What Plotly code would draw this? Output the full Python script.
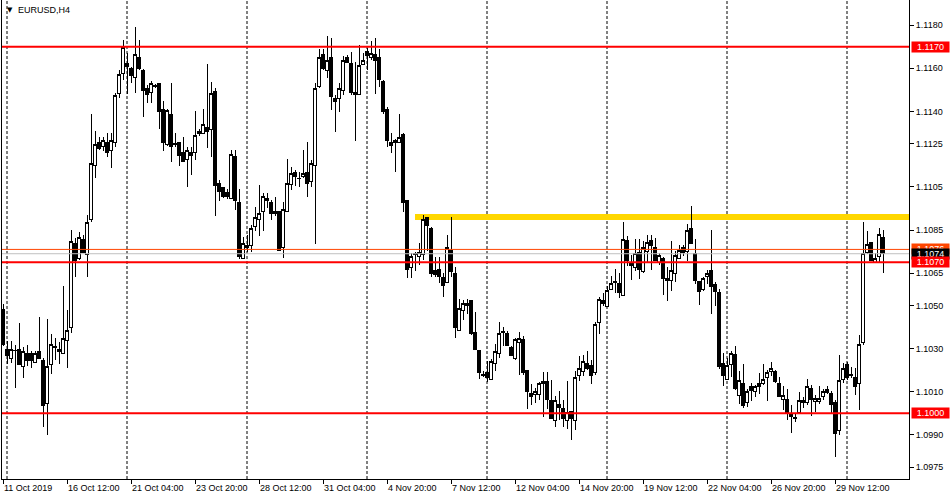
import plotly.graph_objects as go

# ---------------- data (EURUSD H4) ----------------
open_ = [
1.10482,1.10297,1.10255,1.10289,1.10297,1.10216,1.10278,1.10278,1.10236,1.10286,
1.10247,1.10046,1.10227,1.10309,1.10298,1.10278,1.10337,1.10399,1.10788,1.10719,
1.10808,1.10737,1.10899,1.11150,1.11257,1.11237,1.11257,1.11221,1.11257,1.11481,
1.11577,1.11620,1.11600,1.11558,1.11651,1.11592,1.11507,1.11489,1.11518,1.11530,
1.11410,1.11247,1.11386,1.11252,1.11257,1.11210,1.11178,1.11210,1.11210,1.11298,
1.11298,1.11326,1.11317,1.11492,1.11066,1.11046,1.11023,1.10997,1.11190,1.10978,
1.10719,1.10780,1.10777,1.10865,1.10899,1.10935,1.10997,1.10978,1.10938,1.10938,
1.10768,1.10935,1.11059,1.11117,1.11091,1.11097,1.11117,1.11074,1.11148,1.11515,
1.11662,1.11589,1.11651,1.11461,1.11461,1.11496,1.11651,1.11620,1.11479,1.11479,
1.11618,1.11680,1.11651,1.11662,1.11651,1.11541,1.11411,1.11257,1.11257,1.11257,
1.11291,1.10989,1.10677,1.10739,1.10729,1.10737,1.10909,1.10858,1.10661,1.10668,
1.10629,1.10606,1.10757,1.10649,1.10385,1.10477,1.10499,1.10522,1.10377,1.10290,
1.10181,1.10187,1.10159,1.10230,1.10279,1.10378,1.10368,1.10307,1.10256,1.10329,
1.10341,1.10198,1.10091,1.10089,1.10089,1.10148,1.10148,1.10058,1.09967,1.10040,
1.10021,1.09967,1.10009,1.09967,1.10176,1.10194,1.10230,1.10221,1.10187,1.10419,
1.10522,1.10496,1.10576,1.10610,1.10601,1.10547,1.10800,1.10697,1.10677,1.10748,
1.10658,1.10751,1.10800,1.10771,1.10700,1.10720,1.10616,1.10616,1.10650,1.10720,
1.10771,1.10751,1.10859,1.10740,1.10609,1.10576,1.10635,1.10661,1.10599,1.10558,
1.10230,1.10159,1.10228,1.10272,1.10083,1.10136,1.10048,1.10125,1.10099,1.10136,
1.10136,1.10167,1.10194,1.10194,1.10136,1.10066,1.10066,1.09998,1.09980,1.10004,
1.10048,1.10048,1.10117,1.10055,1.10055,1.10078,1.10109,1.10091,1.10048,1.09919,
1.10156,1.10228,1.10181,1.10168,1.10136,1.10329,1.10748,1.10790,1.10701,1.10728,
1.10817]

high = [
1.10507,1.10337,1.10337,1.10317,1.10420,1.10309,1.10317,1.10289,1.10288,1.10448,
1.10255,1.10437,1.10368,1.10348,1.10332,1.10590,1.10479,1.10850,1.10811,1.10841,
1.10827,1.10920,1.11388,1.11309,1.11283,1.11283,1.11298,1.11298,1.11487,1.11592,
1.11731,1.11669,1.11608,1.11793,1.11731,1.11595,1.11523,1.11541,1.11527,1.11533,
1.11450,1.11410,1.11533,1.11298,1.11260,1.11283,1.11237,1.11237,1.11403,1.11318,
1.11410,1.11620,1.11535,1.11507,1.11082,1.11051,1.11039,1.11221,1.11221,1.11040,
1.10819,1.10827,1.10873,1.10958,1.11059,1.11023,1.11020,1.10989,1.11005,1.10940,
1.10981,1.11180,1.11144,1.11128,1.11121,1.11221,1.11257,1.11175,1.11533,1.11689,
1.11689,1.11750,1.11739,1.11476,1.11530,1.11659,1.11662,1.11677,1.11631,1.11708,
1.11669,1.11693,1.11728,1.11739,1.11688,1.11546,1.11419,1.11298,1.11270,1.11386,
1.11298,1.10990,1.10745,1.10750,1.10791,1.10920,1.10912,1.10865,1.10723,1.10723,
1.10649,1.10827,1.10912,1.10680,1.10530,1.10527,1.10531,1.10527,1.10470,1.10292,
1.10194,1.10241,1.10252,1.10323,1.10422,1.10400,1.10380,1.10310,1.10349,1.10375,
1.10357,1.10202,1.10137,1.10117,1.10143,1.10190,1.10190,1.10153,1.10078,1.10102,
1.10063,1.10148,1.10012,1.10198,1.10264,1.10272,1.10290,1.10249,1.10422,1.10539,
1.10558,1.10589,1.10638,1.10669,1.10650,1.10887,1.10821,1.10736,1.10810,1.10810,
1.10799,1.10828,1.10825,1.10813,1.10743,1.10723,1.10677,1.10797,1.10751,1.10779,
1.10782,1.10878,1.10963,1.10810,1.10612,1.10632,1.10666,1.10848,1.10607,1.10578,
1.10279,1.10256,1.10287,1.10310,1.10194,1.10230,1.10114,1.10140,1.10133,1.10187,
1.10230,1.10202,1.10236,1.10202,1.10168,1.10125,1.10114,1.10040,1.09998,1.10099,
1.10074,1.10160,1.10133,1.10086,1.10125,1.10114,1.10125,1.10105,1.10060,1.10272,
1.10233,1.10236,1.10215,1.10210,1.10361,1.10887,1.10844,1.10792,1.10743,1.10859,
1.10851]

low = [
1.10312,1.10229,1.10235,1.10116,1.10224,1.10165,1.10219,1.10208,1.10234,1.10250,
1.09935,1.09899,1.10181,1.10247,1.10227,1.10273,1.10208,1.10374,1.10634,1.10711,
1.10742,1.10634,1.10886,1.11090,1.11221,1.11218,1.11187,1.11136,1.11237,1.11461,
1.11546,1.11481,1.11530,1.11487,1.11592,1.11376,1.11437,1.11437,1.11507,1.11317,
1.11218,1.11240,1.11167,1.11237,1.11148,1.11165,1.11048,1.11105,1.11175,1.11288,
1.11296,1.11229,1.11187,1.10916,1.10986,1.11000,1.10994,1.10994,1.10943,1.10716,
1.10716,1.10750,1.10746,1.10847,1.10824,1.10847,1.10951,1.10896,1.10916,1.10755,
1.10719,1.10933,1.11036,1.11056,1.11048,1.11090,1.11005,1.11048,1.10785,1.11507,
1.11592,1.11553,1.11407,1.11306,1.11399,1.11476,1.11623,1.11476,1.11264,1.11477,
1.11615,1.11590,1.11638,1.11481,1.11515,1.11386,1.11237,1.11209,1.11117,1.11255,
1.10935,1.10626,1.10626,1.10661,1.10688,1.10711,1.10755,1.10634,1.10634,1.10603,
1.10538,1.10603,1.10634,1.10348,1.10384,1.10434,1.10462,1.10364,1.10295,1.10159,
1.10168,1.10143,1.10158,1.10194,1.10256,1.10310,1.10310,1.10268,1.10249,1.10179,
1.10179,1.10020,1.10040,1.10048,1.10060,1.09983,1.10020,1.09977,1.09936,1.09970,
1.09936,1.09929,1.09877,1.09921,1.10148,1.10171,1.10202,1.10136,1.10176,1.10368,
1.10496,1.10495,1.10573,1.10558,1.10535,1.10546,1.10685,1.10616,1.10658,1.10624,
1.10650,1.10700,1.10666,1.10705,1.10689,1.10547,1.10519,1.10565,1.10607,1.10719,
1.10728,1.10705,1.10786,1.10599,1.10504,1.10565,1.10599,1.10460,1.10496,1.10207,
1.10125,1.10156,1.10168,1.10109,1.10044,1.10024,1.10029,1.10055,1.10075,1.10091,
1.10133,1.10055,1.10174,1.10140,1.10077,1.10017,1.09967,1.09908,1.09959,1.10001,
1.10024,1.10040,1.09986,1.10004,1.10043,1.10060,1.10091,1.09998,1.09796,1.09901,
1.10140,1.10153,1.10164,1.10086,1.10017,1.10318,1.10739,1.10705,1.10700,1.10700,
1.10650]

close = [
1.10317,1.10270,1.10297,1.10291,1.10227,1.10286,1.10247,1.10244,1.10278,1.10255,
1.10035,1.10216,1.10317,1.10304,1.10286,1.10348,1.10386,1.10799,1.10708,1.10816,
1.10746,1.10887,1.11159,1.11247,1.11229,1.11267,1.11210,1.11267,1.11472,1.11569,
1.11697,1.11608,1.11566,1.11662,1.11600,1.11496,1.11479,1.11530,1.11516,1.11399,
1.11257,1.11402,1.11237,1.11247,1.11195,1.11167,1.11221,1.11195,1.11288,1.11309,
1.11340,1.11306,1.11481,1.11056,1.11028,1.11005,1.11005,1.11198,1.10986,1.10726,
1.10788,1.10768,1.10858,1.10909,1.10927,1.11005,1.10985,1.10927,1.10927,1.10757,
1.10946,1.11066,1.11110,1.11097,1.11088,1.11110,1.11066,1.11159,1.11507,1.11651,
1.11597,1.11638,1.11468,1.11445,1.11507,1.11638,1.11628,1.11489,1.11489,1.11611,
1.11638,1.11659,1.11669,1.11635,1.11549,1.11399,1.11264,1.11244,1.11267,1.11280,
1.10978,1.10668,1.10729,1.10736,1.10746,1.10899,1.10869,1.10649,1.10646,1.10634,
1.10595,1.10770,1.10657,1.10399,1.10488,1.10507,1.10508,1.10368,1.10298,1.10187,
1.10177,1.10168,1.10238,1.10287,1.10368,1.10375,1.10315,1.10269,1.10341,1.10349,
1.10187,1.10099,1.10078,1.10102,1.10136,1.10136,1.10066,1.09978,1.10058,1.10027,
1.09978,1.10006,1.09978,1.10168,1.10210,1.10238,1.10210,1.10176,1.10411,1.10530,
1.10507,1.10569,1.10601,1.10607,1.10558,1.10808,1.10708,1.10686,1.10739,1.10669,
1.10771,1.10790,1.10779,1.10709,1.10731,1.10627,1.10627,1.10661,1.10731,1.10756,
1.10746,1.10848,1.10787,1.10616,1.10566,1.10627,1.10650,1.10589,1.10566,1.10218,
1.10176,1.10221,1.10279,1.10114,1.10151,1.10037,1.10099,1.10105,1.10125,1.10125,
1.10159,1.10187,1.10210,1.10148,1.10078,1.10082,1.10004,1.09986,1.09976,1.10058,
1.10060,1.10125,1.10066,1.10068,1.10068,1.10102,1.10097,1.10040,1.09908,1.10151,
1.10210,1.10167,1.10177,1.10125,1.10318,1.10739,1.10782,1.10709,1.10720,1.10828,
1.10739]

bars = list(range(len(close)))

# x-axis labels (bar index -> label)
x_tick_bars = [0, 16, 32, 48, 64, 80, 96, 112, 128, 144, 160, 176, 192, 208]
x_tick_text = ["11 Oct 2019", "16 Oct 12:00", "21 Oct 04:00", "23 Oct 20:00",
               "28 Oct 12:00", "31 Oct 04:00", "4 Nov 20:00", "7 Nov 12:00",
               "12 Nov 04:00", "14 Nov 20:00", "19 Nov 12:00", "22 Nov 04:00",
               "26 Nov 20:00", "29 Nov 12:00"]
# weekly separators (Monday 00:00 bars)
week_start_bars = [1, 31, 61, 91, 121, 151, 181, 211]

y_tick_vals = [1.1180, 1.1160, 1.1140, 1.1125, 1.1105, 1.1085, 1.1065,
               1.1050, 1.1030, 1.1010, 1.0990, 1.0975]
y_tick_text = ["%.4f" % v for v in y_tick_vals]

# horizontal levels
red_levels = [1.1170, 1.1070, 1.1000]
bid_price = 1.1074
ask_price = 1.1076
zone_low, zone_high = 1.10896, 1.10924
zone_start_bar = 103

symbol_title = "EURUSD,H4"

FONT = "Liberation Sans"

fig = go.Figure()
fig.add_trace(go.Candlestick(
    x=bars, open=open_, high=high, low=low, close=close,
    increasing=dict(line=dict(color="black", width=1), fillcolor="white"),
    decreasing=dict(line=dict(color="black", width=1), fillcolor="black"),
    whiskerwidth=0, showlegend=False, hoverinfo="skip"))

shapes = []
for b in week_start_bars:
    shapes.append(dict(type="line", xref="x", yref="paper", x0=b, x1=b, y0=0, y1=1,
                       line=dict(color="black", width=1, dash="3px,2px"), layer="below"))
shapes.append(dict(type="rect", xref="x", yref="y", x0=zone_start_bar, x1=226.5,
                   y0=zone_low, y1=zone_high, fillcolor="#FFD700",
                   line=dict(width=0), layer="below"))
shapes.append(dict(type="line", xref="paper", yref="y", x0=0, x1=1, y0=ask_price, y1=ask_price,
                   line=dict(color="#FF4500", width=1), layer="above"))
shapes.append(dict(type="line", xref="paper", yref="y", x0=0, x1=1, y0=bid_price, y1=bid_price,
                   line=dict(color="#C0C0C0", width=1), layer="above"))
for lv in red_levels:
    shapes.append(dict(type="line", xref="paper", yref="y", x0=0, x1=1, y0=lv, y1=lv,
                       line=dict(color="#FF0000", width=2), layer="above"))

annotations = []
def tag(price, bg):
    return dict(xref="paper", yref="y", x=1, y=price, xanchor="left", yanchor="middle",
                xshift=2, text="%.4f" % price, showarrow=False, bgcolor=bg,
                width=36, height=9, borderpad=0.5,
                font=dict(family=FONT, size=9, color="white"))
annotations.append(tag(ask_price, "#FF4500"))
annotations.append(tag(bid_price, "#000000"))
for lv in red_levels:
    annotations.append(tag(lv, "#FF0000"))

annotations.append(dict(xref="paper", yref="paper", x=0, y=1, xanchor="left", yanchor="middle",
                        xshift=3, yshift=-10, text="▼", showarrow=False,
                        font=dict(family="DejaVu Sans", size=7, color="black")))
annotations.append(dict(xref="paper", yref="paper", x=0, y=1, xanchor="left", yanchor="middle",
                        xshift=14, yshift=-10, text=symbol_title, showarrow=False,
                        font=dict(family=FONT, size=9, color="black")))

fig.update_layout(
    width=950, height=500,
    margin=dict(l=2, r=41, t=0, b=21, pad=0, autoexpand=False),
    paper_bgcolor="white", plot_bgcolor="white",
    font=dict(family=FONT, size=9, color="black"),
    boxgap=0.35, boxgroupgap=0,
    showlegend=False,
    hovermode=False,
    shapes=shapes, annotations=annotations,
    xaxis=dict(range=[-0.25, 226.5], tickvals=x_tick_bars, ticktext=x_tick_text,
               ticks="outside", ticklen=4, tickcolor="black", tickwidth=1,
               ticklabelposition="outside right", automargin=False,
               showgrid=False, zeroline=False, showline=True, linecolor="black", linewidth=1,
               rangeslider=dict(visible=False), tickfont=dict(family=FONT, size=9, color="black")),
    yaxis=dict(side="right", range=[1.096954, 1.119166], tickvals=y_tick_vals, ticktext=y_tick_text,
               ticks="outside", ticklen=4, tickcolor="black", tickwidth=1, automargin=False,
               showgrid=False, zeroline=False, showline=True, mirror=True,
               linecolor="black", linewidth=1,
               tickfont=dict(family=FONT, size=9, color="black")),
)

crisp = ("var s=document.createElement('style');"
         "s.innerHTML='html,body{margin:0;padding:0;overflow:hidden}"
         ".boxlayer path{shape-rendering:crispEdges}';"
         "document.head.appendChild(s);")
fig.write_html("out.html", post_script=crisp, config={"displayModeBar": False})
